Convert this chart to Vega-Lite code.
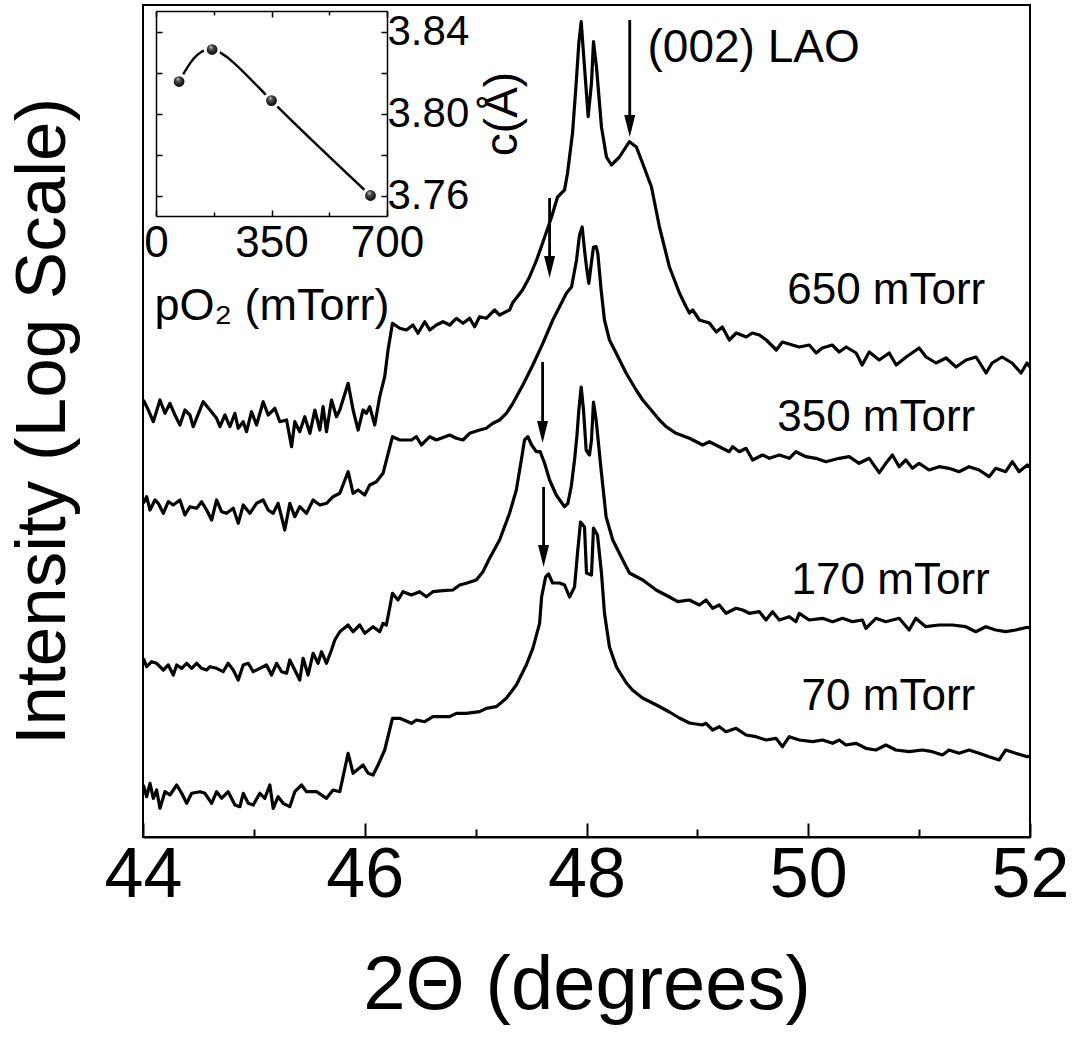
{
  "$schema": "https://vega.github.io/schema/vega-lite/v6.json",
  "width": 887,
  "height": 832,
  "autosize": "none",
  "padding": {"left": 143, "top": 5, "right": 45, "bottom": 201},
  "background": "white",
  "config": {"view": {"stroke": "black", "strokeWidth": 2}, "font": "Liberation Sans"},
  "datasets": {
    "curves": [
      {"s":"650","x":44.003,"y":437},{"s":"650","x":44.048,"y":427},{"s":"650","x":44.093,"y":415.3},{"s":"650","x":44.153,"y":437},{"s":"650","x":44.198,"y":423.7},{"s":"650","x":44.243,"y":433.7},{"s":"650","x":44.288,"y":422},{"s":"650","x":44.333,"y":412},{"s":"650","x":44.378,"y":427},{"s":"650","x":44.423,"y":422},{"s":"650","x":44.453,"y":410.3},{"s":"650","x":44.543,"y":435.3},{"s":"650","x":44.604,"y":427},{"s":"650","x":44.664,"y":418.7},{"s":"650","x":44.694,"y":410.3},{"s":"650","x":44.739,"y":422},{"s":"650","x":44.784,"y":410.3},{"s":"650","x":44.829,"y":423.7},{"s":"650","x":44.859,"y":408.7},{"s":"650","x":44.904,"y":415.3},{"s":"650","x":44.934,"y":405.3},{"s":"650","x":44.979,"y":425.3},{"s":"650","x":45.024,"y":412},{"s":"650","x":45.084,"y":435.3},{"s":"650","x":45.129,"y":422},{"s":"650","x":45.189,"y":428.7},{"s":"650","x":45.234,"y":415.3},{"s":"650","x":45.295,"y":417},{"s":"650","x":45.34,"y":390.3},{"s":"650","x":45.369,"y":415.3},{"s":"650","x":45.414,"y":405.3},{"s":"650","x":45.459,"y":420.3},{"s":"650","x":45.505,"y":403.7},{"s":"650","x":45.55,"y":427},{"s":"650","x":45.595,"y":407},{"s":"650","x":45.624,"y":430.3},{"s":"650","x":45.655,"y":405.3},{"s":"650","x":45.7,"y":437},{"s":"650","x":45.745,"y":420.3},{"s":"650","x":45.775,"y":427},{"s":"650","x":45.85,"y":453.7},{"s":"650","x":45.895,"y":427},{"s":"650","x":45.94,"y":407},{"s":"650","x":45.985,"y":427},{"s":"650","x":46.015,"y":423.7},{"s":"650","x":46.045,"y":430.3},{"s":"650","x":46.09,"y":412},{"s":"650","x":46.135,"y":440.3},{"s":"650","x":46.18,"y":460.3},{"s":"650","x":46.21,"y":487},{"s":"650","x":46.25,"y":513.7},{"s":"650","x":46.315,"y":508.7},{"s":"650","x":46.376,"y":507},{"s":"650","x":46.435,"y":512},{"s":"650","x":46.48,"y":503.7},{"s":"650","x":46.541,"y":515.3},{"s":"650","x":46.586,"y":507},{"s":"650","x":46.646,"y":512},{"s":"650","x":46.705,"y":515.3},{"s":"650","x":46.766,"y":512},{"s":"650","x":46.826,"y":518.7},{"s":"650","x":46.886,"y":513.7},{"s":"650","x":46.946,"y":518.7},{"s":"650","x":46.991,"y":510.3},{"s":"650","x":47.036,"y":520.3},{"s":"650","x":47.096,"y":518.7},{"s":"650","x":47.171,"y":527},{"s":"650","x":47.216,"y":522},{"s":"650","x":47.306,"y":527},{"s":"650","x":47.333,"y":534},{"s":"650","x":47.423,"y":547},{"s":"650","x":47.486,"y":560},{"s":"650","x":47.55,"y":577},{"s":"650","x":47.604,"y":594},{"s":"650","x":47.685,"y":620},{"s":"650","x":47.739,"y":640},{"s":"650","x":47.802,"y":647},{"s":"650","x":47.829,"y":664},{"s":"650","x":47.874,"y":704},{"s":"650","x":47.907,"y":754},{"s":"650","x":47.931,"y":794},{"s":"650","x":47.952,"y":815.3},{"s":"650","x":47.982,"y":770},{"s":"650","x":48.015,"y":720.3},{"s":"650","x":48.045,"y":754},{"s":"650","x":48.063,"y":795.3},{"s":"650","x":48.09,"y":770},{"s":"650","x":48.135,"y":710},{"s":"650","x":48.18,"y":680},{"s":"650","x":48.225,"y":672},{"s":"650","x":48.297,"y":680},{"s":"650","x":48.387,"y":695.3},{"s":"650","x":48.45,"y":690},{"s":"650","x":48.505,"y":674},{"s":"650","x":48.586,"y":650},{"s":"650","x":48.658,"y":610},{"s":"650","x":48.748,"y":570},{"s":"650","x":48.838,"y":544},{"s":"650","x":48.898,"y":530.3},{"s":"650","x":48.928,"y":524},{"s":"650","x":48.958,"y":527},{"s":"650","x":49.018,"y":517},{"s":"650","x":49.108,"y":514},{"s":"650","x":49.171,"y":505},{"s":"650","x":49.225,"y":510},{"s":"650","x":49.288,"y":497},{"s":"650","x":49.351,"y":504},{"s":"650","x":49.441,"y":500},{"s":"650","x":49.495,"y":504},{"s":"650","x":49.559,"y":502},{"s":"650","x":49.622,"y":497},{"s":"650","x":49.712,"y":487},{"s":"650","x":49.766,"y":495},{"s":"650","x":49.856,"y":492},{"s":"650","x":49.919,"y":490},{"s":"650","x":50.009,"y":492},{"s":"650","x":50.072,"y":484},{"s":"650","x":50.126,"y":489},{"s":"650","x":50.216,"y":492},{"s":"650","x":50.279,"y":485},{"s":"650","x":50.342,"y":490},{"s":"650","x":50.432,"y":484},{"s":"650","x":50.486,"y":472},{"s":"650","x":50.55,"y":485},{"s":"650","x":50.64,"y":477},{"s":"650","x":50.73,"y":484},{"s":"650","x":50.793,"y":472},{"s":"650","x":50.883,"y":480},{"s":"650","x":51.0,"y":489},{"s":"650","x":51.063,"y":480},{"s":"650","x":51.153,"y":474},{"s":"650","x":51.243,"y":479},{"s":"650","x":51.333,"y":470},{"s":"650","x":51.423,"y":477},{"s":"650","x":51.514,"y":480},{"s":"650","x":51.604,"y":464},{"s":"650","x":51.658,"y":474},{"s":"650","x":51.748,"y":480},{"s":"650","x":51.838,"y":474},{"s":"650","x":51.919,"y":464},{"s":"650","x":51.973,"y":474},{"s":"650","x":52.0,"y":470},

      {"s":"350","x":44.003,"y":333.7},{"s":"350","x":44.033,"y":340.3},{"s":"350","x":44.063,"y":327},{"s":"350","x":44.108,"y":337},{"s":"350","x":44.138,"y":333.7},{"s":"350","x":44.183,"y":323.7},{"s":"350","x":44.228,"y":335.3},{"s":"350","x":44.273,"y":332},{"s":"350","x":44.333,"y":337},{"s":"350","x":44.378,"y":322},{"s":"350","x":44.423,"y":330.3},{"s":"350","x":44.484,"y":328.7},{"s":"350","x":44.529,"y":335.3},{"s":"350","x":44.574,"y":327},{"s":"350","x":44.619,"y":317},{"s":"350","x":44.664,"y":337},{"s":"350","x":44.709,"y":325.3},{"s":"350","x":44.754,"y":323.7},{"s":"350","x":44.814,"y":328.7},{"s":"350","x":44.859,"y":313.7},{"s":"350","x":44.904,"y":332},{"s":"350","x":44.964,"y":323.7},{"s":"350","x":45.024,"y":333.7},{"s":"350","x":45.084,"y":337},{"s":"350","x":45.129,"y":327},{"s":"350","x":45.174,"y":323.7},{"s":"350","x":45.219,"y":333.7},{"s":"350","x":45.279,"y":307},{"s":"350","x":45.324,"y":333.7},{"s":"350","x":45.369,"y":320.3},{"s":"350","x":45.414,"y":330.3},{"s":"350","x":45.475,"y":323.7},{"s":"350","x":45.534,"y":337},{"s":"350","x":45.595,"y":332},{"s":"350","x":45.655,"y":333.7},{"s":"350","x":45.714,"y":340.3},{"s":"350","x":45.775,"y":343.7},{"s":"350","x":45.85,"y":365.3},{"s":"350","x":45.895,"y":343.7},{"s":"350","x":45.94,"y":347},{"s":"350","x":46.0,"y":342},{"s":"350","x":46.045,"y":352},{"s":"350","x":46.105,"y":355.3},{"s":"350","x":46.165,"y":363.7},{"s":"350","x":46.25,"y":400.3},{"s":"350","x":46.315,"y":397},{"s":"350","x":46.421,"y":397},{"s":"350","x":46.466,"y":400.3},{"s":"350","x":46.511,"y":392},{"s":"350","x":46.586,"y":400.3},{"s":"350","x":46.646,"y":397},{"s":"350","x":46.766,"y":402},{"s":"350","x":46.826,"y":398.7},{"s":"350","x":46.886,"y":397},{"s":"350","x":46.946,"y":403.7},{"s":"350","x":47.036,"y":407},{"s":"350","x":47.096,"y":408.7},{"s":"350","x":47.156,"y":413.7},{"s":"350","x":47.216,"y":417},{"s":"350","x":47.277,"y":423.7},{"s":"350","x":47.336,"y":433.7},{"s":"350","x":47.426,"y":452},{"s":"350","x":47.516,"y":472},{"s":"350","x":47.606,"y":493.7},{"s":"350","x":47.696,"y":517},{"s":"350","x":47.757,"y":530.3},{"s":"350","x":47.82,"y":544},{"s":"350","x":47.865,"y":550},{"s":"350","x":47.91,"y":577},{"s":"350","x":47.937,"y":602},{"s":"350","x":47.961,"y":610},{"s":"350","x":47.982,"y":587},{"s":"350","x":48.0,"y":570},{"s":"350","x":48.021,"y":553.7},{"s":"350","x":48.045,"y":575},{"s":"350","x":48.063,"y":590},{"s":"350","x":48.087,"y":590.3},{"s":"350","x":48.102,"y":583.7},{"s":"350","x":48.132,"y":547},{"s":"350","x":48.162,"y":517},{"s":"350","x":48.207,"y":497},{"s":"350","x":48.268,"y":483.7},{"s":"350","x":48.358,"y":463.7},{"s":"350","x":48.448,"y":447},{"s":"350","x":48.507,"y":437},{"s":"350","x":48.583,"y":427},{"s":"350","x":48.658,"y":417},{"s":"350","x":48.718,"y":410.3},{"s":"350","x":48.808,"y":403.7},{"s":"350","x":48.928,"y":398.7},{"s":"350","x":49.048,"y":392},{"s":"350","x":49.108,"y":395.3},{"s":"350","x":49.198,"y":390.3},{"s":"350","x":49.288,"y":385.3},{"s":"350","x":49.318,"y":390.3},{"s":"350","x":49.378,"y":385.3},{"s":"350","x":49.439,"y":388.7},{"s":"350","x":49.498,"y":377},{"s":"350","x":49.588,"y":382},{"s":"350","x":49.649,"y":378.7},{"s":"350","x":49.739,"y":382},{"s":"350","x":49.829,"y":378.7},{"s":"350","x":49.889,"y":385.3},{"s":"350","x":49.979,"y":380.3},{"s":"350","x":50.069,"y":378.7},{"s":"350","x":50.159,"y":375.3},{"s":"350","x":50.279,"y":378.7},{"s":"350","x":50.369,"y":380.3},{"s":"350","x":50.459,"y":373.7},{"s":"350","x":50.55,"y":378.7},{"s":"350","x":50.64,"y":364.3},{"s":"350","x":50.7,"y":373.7},{"s":"350","x":50.759,"y":382},{"s":"350","x":50.82,"y":370.3},{"s":"350","x":50.88,"y":377},{"s":"350","x":50.94,"y":368.7},{"s":"350","x":51.0,"y":373.7},{"s":"350","x":51.09,"y":367},{"s":"350","x":51.18,"y":370.3},{"s":"350","x":51.27,"y":368.7},{"s":"350","x":51.36,"y":365.3},{"s":"350","x":51.45,"y":370.3},{"s":"350","x":51.541,"y":367},{"s":"350","x":51.631,"y":360.3},{"s":"350","x":51.691,"y":368.7},{"s":"350","x":51.781,"y":365.3},{"s":"350","x":51.841,"y":375.3},{"s":"350","x":51.901,"y":365.3},{"s":"350","x":51.976,"y":372},{"s":"350","x":52.0,"y":370},

      {"s":"170","x":44.003,"y":178.7},{"s":"170","x":44.033,"y":170.3},{"s":"170","x":44.078,"y":175.3},{"s":"170","x":44.123,"y":173.7},{"s":"170","x":44.183,"y":167},{"s":"170","x":44.228,"y":172},{"s":"170","x":44.273,"y":162},{"s":"170","x":44.304,"y":172},{"s":"170","x":44.349,"y":168.7},{"s":"170","x":44.394,"y":173.7},{"s":"170","x":44.439,"y":168.7},{"s":"170","x":44.484,"y":173.7},{"s":"170","x":44.529,"y":168.7},{"s":"170","x":44.574,"y":167},{"s":"170","x":44.604,"y":170.3},{"s":"170","x":44.664,"y":168.7},{"s":"170","x":44.723,"y":165.3},{"s":"170","x":44.768,"y":173.7},{"s":"170","x":44.814,"y":167},{"s":"170","x":44.859,"y":157},{"s":"170","x":44.904,"y":172},{"s":"170","x":44.949,"y":173.7},{"s":"170","x":44.994,"y":165.3},{"s":"170","x":45.054,"y":168.7},{"s":"170","x":45.114,"y":172},{"s":"170","x":45.159,"y":162},{"s":"170","x":45.205,"y":173.7},{"s":"170","x":45.25,"y":165.3},{"s":"170","x":45.295,"y":163.7},{"s":"170","x":45.324,"y":177},{"s":"170","x":45.369,"y":167},{"s":"170","x":45.414,"y":157},{"s":"170","x":45.444,"y":178.7},{"s":"170","x":45.489,"y":162},{"s":"170","x":45.534,"y":183.7},{"s":"170","x":45.579,"y":173.7},{"s":"170","x":45.61,"y":185.3},{"s":"170","x":45.655,"y":173.7},{"s":"170","x":45.7,"y":187},{"s":"170","x":45.73,"y":197},{"s":"170","x":45.775,"y":205.3},{"s":"170","x":45.85,"y":212},{"s":"170","x":45.895,"y":205.3},{"s":"170","x":45.955,"y":212},{"s":"170","x":46.0,"y":203.7},{"s":"170","x":46.075,"y":210.3},{"s":"170","x":46.135,"y":205.3},{"s":"170","x":46.165,"y":213.7},{"s":"170","x":46.195,"y":212},{"s":"170","x":46.25,"y":243.7},{"s":"170","x":46.3,"y":237},{"s":"170","x":46.345,"y":245.3},{"s":"170","x":46.421,"y":242},{"s":"170","x":46.495,"y":245.3},{"s":"170","x":46.556,"y":240.3},{"s":"170","x":46.615,"y":245.3},{"s":"170","x":46.705,"y":246.3},{"s":"170","x":46.795,"y":247},{"s":"170","x":46.856,"y":252},{"s":"170","x":46.916,"y":253.7},{"s":"170","x":47.006,"y":257},{"s":"170","x":47.066,"y":265.3},{"s":"170","x":47.126,"y":278.7},{"s":"170","x":47.216,"y":297},{"s":"170","x":47.306,"y":323.7},{"s":"170","x":47.367,"y":347},{"s":"170","x":47.412,"y":377},{"s":"170","x":47.441,"y":397},{"s":"170","x":47.471,"y":400.3},{"s":"170","x":47.505,"y":392},{"s":"170","x":47.547,"y":385.3},{"s":"170","x":47.583,"y":385.3},{"s":"170","x":47.622,"y":373.7},{"s":"170","x":47.667,"y":357},{"s":"170","x":47.727,"y":342},{"s":"170","x":47.802,"y":330.3},{"s":"170","x":47.832,"y":333.7},{"s":"170","x":47.862,"y":350.3},{"s":"170","x":47.892,"y":377},{"s":"170","x":47.913,"y":400.3},{"s":"170","x":47.931,"y":427},{"s":"170","x":47.952,"y":450},{"s":"170","x":47.973,"y":427},{"s":"170","x":47.997,"y":387},{"s":"170","x":48.027,"y":382},{"s":"170","x":48.045,"y":397},{"s":"170","x":48.063,"y":435},{"s":"170","x":48.087,"y":417},{"s":"170","x":48.132,"y":367},{"s":"170","x":48.177,"y":320},{"s":"170","x":48.237,"y":297},{"s":"170","x":48.327,"y":277},{"s":"170","x":48.387,"y":264},{"s":"170","x":48.507,"y":257},{"s":"170","x":48.568,"y":252},{"s":"170","x":48.628,"y":247},{"s":"170","x":48.748,"y":240},{"s":"170","x":48.823,"y":235.3},{"s":"170","x":48.928,"y":237},{"s":"170","x":49.018,"y":232},{"s":"170","x":49.078,"y":237},{"s":"170","x":49.138,"y":228.7},{"s":"170","x":49.198,"y":232},{"s":"170","x":49.258,"y":223.7},{"s":"170","x":49.349,"y":228.7},{"s":"170","x":49.408,"y":227},{"s":"170","x":49.468,"y":223.7},{"s":"170","x":49.559,"y":225.3},{"s":"170","x":49.619,"y":217},{"s":"170","x":49.678,"y":225.3},{"s":"170","x":49.739,"y":217},{"s":"170","x":49.829,"y":220.3},{"s":"170","x":49.889,"y":215.3},{"s":"170","x":49.919,"y":223.7},{"s":"170","x":50.009,"y":217},{"s":"170","x":50.129,"y":218.7},{"s":"170","x":50.219,"y":215.3},{"s":"170","x":50.309,"y":218.7},{"s":"170","x":50.399,"y":215.3},{"s":"170","x":50.489,"y":217},{"s":"170","x":50.52,"y":208.7},{"s":"170","x":50.61,"y":218.7},{"s":"170","x":50.7,"y":215.3},{"s":"170","x":50.82,"y":218.7},{"s":"170","x":50.91,"y":207},{"s":"170","x":50.97,"y":218.7},{"s":"170","x":51.06,"y":210.3},{"s":"170","x":51.18,"y":212},{"s":"170","x":51.3,"y":212},{"s":"170","x":51.421,"y":210.3},{"s":"170","x":51.511,"y":205.3},{"s":"170","x":51.601,"y":210.3},{"s":"170","x":51.691,"y":207},{"s":"170","x":51.781,"y":205.3},{"s":"170","x":51.871,"y":207},{"s":"170","x":51.976,"y":209.7},{"s":"170","x":52.0,"y":209},

      {"s":"70","x":44.003,"y":52},{"s":"70","x":44.033,"y":40.3},{"s":"70","x":44.063,"y":53.7},{"s":"70","x":44.093,"y":38.7},{"s":"70","x":44.123,"y":47},{"s":"70","x":44.153,"y":28.7},{"s":"70","x":44.198,"y":45.3},{"s":"70","x":44.243,"y":42},{"s":"70","x":44.304,"y":52},{"s":"70","x":44.349,"y":43.7},{"s":"70","x":44.394,"y":33.7},{"s":"70","x":44.439,"y":43.7},{"s":"70","x":44.514,"y":45.3},{"s":"70","x":44.559,"y":43.7},{"s":"70","x":44.619,"y":33.7},{"s":"70","x":44.664,"y":45.3},{"s":"70","x":44.709,"y":38.7},{"s":"70","x":44.768,"y":45.3},{"s":"70","x":44.829,"y":32},{"s":"70","x":44.874,"y":30.3},{"s":"70","x":44.904,"y":43.7},{"s":"70","x":44.949,"y":33.7},{"s":"70","x":44.994,"y":32},{"s":"70","x":45.054,"y":43.7},{"s":"70","x":45.099,"y":38.7},{"s":"70","x":45.144,"y":52},{"s":"70","x":45.174,"y":28.7},{"s":"70","x":45.219,"y":40.3},{"s":"70","x":45.264,"y":33.7},{"s":"70","x":45.324,"y":30.3},{"s":"70","x":45.369,"y":45.3},{"s":"70","x":45.43,"y":52},{"s":"70","x":45.475,"y":45.3},{"s":"70","x":45.565,"y":45.3},{"s":"70","x":45.655,"y":38.7},{"s":"70","x":45.714,"y":47},{"s":"70","x":45.775,"y":45.3},{"s":"70","x":45.85,"y":83.7},{"s":"70","x":45.895,"y":63.7},{"s":"70","x":45.985,"y":72},{"s":"70","x":46.03,"y":63.7},{"s":"70","x":46.075,"y":62},{"s":"70","x":46.12,"y":72},{"s":"70","x":46.18,"y":87},{"s":"70","x":46.25,"y":118.7},{"s":"70","x":46.315,"y":118.7},{"s":"70","x":46.421,"y":113.7},{"s":"70","x":46.466,"y":117},{"s":"70","x":46.541,"y":115.3},{"s":"70","x":46.615,"y":120.3},{"s":"70","x":46.766,"y":120.3},{"s":"70","x":46.826,"y":123.7},{"s":"70","x":46.916,"y":123.7},{"s":"70","x":47.036,"y":125.3},{"s":"70","x":47.096,"y":128.7},{"s":"70","x":47.186,"y":130.3},{"s":"70","x":47.277,"y":138.7},{"s":"70","x":47.367,"y":152},{"s":"70","x":47.457,"y":172},{"s":"70","x":47.516,"y":188.7},{"s":"70","x":47.577,"y":213.7},{"s":"70","x":47.595,"y":240},{"s":"70","x":47.631,"y":260},{"s":"70","x":47.658,"y":263},{"s":"70","x":47.694,"y":254},{"s":"70","x":47.757,"y":254},{"s":"70","x":47.802,"y":252},{"s":"70","x":47.847,"y":240},{"s":"70","x":47.892,"y":250},{"s":"70","x":47.919,"y":284},{"s":"70","x":47.946,"y":315},{"s":"70","x":47.982,"y":310},{"s":"70","x":48.0,"y":264},{"s":"70","x":48.045,"y":262},{"s":"70","x":48.063,"y":309},{"s":"70","x":48.099,"y":302},{"s":"70","x":48.135,"y":264},{"s":"70","x":48.162,"y":224},{"s":"70","x":48.207,"y":190},{"s":"70","x":48.27,"y":170},{"s":"70","x":48.36,"y":154},{"s":"70","x":48.414,"y":147},{"s":"70","x":48.505,"y":139},{"s":"70","x":48.631,"y":132},{"s":"70","x":48.748,"y":125},{"s":"70","x":48.838,"y":119},{"s":"70","x":48.928,"y":114},{"s":"70","x":49.045,"y":112},{"s":"70","x":49.078,"y":113.7},{"s":"70","x":49.138,"y":107},{"s":"70","x":49.198,"y":110.3},{"s":"70","x":49.258,"y":105.3},{"s":"70","x":49.349,"y":108.7},{"s":"70","x":49.439,"y":102},{"s":"70","x":49.529,"y":100.3},{"s":"70","x":49.619,"y":97},{"s":"70","x":49.709,"y":98.7},{"s":"70","x":49.768,"y":90.3},{"s":"70","x":49.829,"y":100.3},{"s":"70","x":49.919,"y":97},{"s":"70","x":50.039,"y":95.3},{"s":"70","x":50.129,"y":97},{"s":"70","x":50.219,"y":93.7},{"s":"70","x":50.279,"y":97},{"s":"70","x":50.34,"y":92},{"s":"70","x":50.43,"y":93.7},{"s":"70","x":50.52,"y":88.7},{"s":"70","x":50.61,"y":87},{"s":"70","x":50.7,"y":92},{"s":"70","x":50.79,"y":87},{"s":"70","x":50.91,"y":85.3},{"s":"70","x":51.03,"y":87},{"s":"70","x":51.12,"y":85.3},{"s":"70","x":51.21,"y":82},{"s":"70","x":51.27,"y":87},{"s":"70","x":51.36,"y":83.7},{"s":"70","x":51.45,"y":87},{"s":"70","x":51.541,"y":83.7},{"s":"70","x":51.631,"y":80.3},{"s":"70","x":51.721,"y":77},{"s":"70","x":51.781,"y":87},{"s":"70","x":51.871,"y":83.7},{"s":"70","x":51.976,"y":80.3},{"s":"70","x":52.0,"y":81}
    ],
    "arrows": [
      {"x": 48.39, "y": 817, "y2": 706},
      {"x": 47.667, "y": 639, "y2": 565},
      {"x": 47.604, "y": 475, "y2": 400},
      {"x": 47.613, "y": 350, "y2": 276}
    ],
    "heads": [
      {"x": 48.39, "y": 711},
      {"x": 47.667, "y": 570},
      {"x": 47.604, "y": 405},
      {"x": 47.613, "y": 281}
    ],
    "labels": [
      {"x": 49.81, "y": 546, "t": "650 mTorr"},
      {"x": 49.72, "y": 419, "t": "350 mTorr"},
      {"x": 49.85, "y": 256, "t": "170 mTorr"},
      {"x": 49.94, "y": 140, "t": "70 mTorr"}
    ],
    "lao": [{"x": 48.55, "y": 789, "t": "(002) LAO"}],
    "inset": [
      {"p": 70, "c": 3.8156},
      {"p": 170, "c": 3.8312},
      {"p": 350, "c": 3.8063},
      {"p": 650, "c": 3.76}
    ]
  },
  "layer": [
    {
      "encoding": {
        "x": {
          "field": "x", "type": "quantitative",
          "scale": {"domain": [44, 52], "nice": false, "zero": false},
          "axis": {
            "orient": "bottom",
            "values": [44, 45, 46, 47, 48, 49, 50, 51, 52],
            "labelExpr": "datum.value % 2 === 0 ? datum.label : ''",
            "grid": false,
            "domainColor": "black", "domainWidth": 2,
            "tickColor": "black", "tickWidth": 2,
            "tickSize": {"condition": {"test": "datum.value % 2 === 0", "value": -14}, "value": -8},
            "labelFont": "Liberation Sans", "labelFontSize": 70, "labelColor": "black",
            "labelPadding": 18, "labelFlush": false, "labelOverlap": false,
            "title": "2Θ (degrees)",
            "titleFont": "Liberation Sans", "titleFontSize": 76, "titleFontWeight": "normal", "titleColor": "black",
            "titlePadding": 32
          }
        },
        "y": {
          "field": "y", "type": "quantitative",
          "scale": {"domain": [0, 832], "nice": false, "zero": false},
          "axis": {
            "orient": "left",
            "domain": false, "ticks": false, "labels": false, "grid": false,
            "title": "Intensity (Log Scale)",
            "titleFont": "Liberation Sans", "titleFontSize": 71, "titleFontWeight": "normal", "titleColor": "black",
            "titlePadding": 64
          }
        }
      },
      "layer": [
        {
          "data": {"name": "curves"},
          "mark": {"type": "line", "color": "black", "strokeWidth": 3.2, "strokeJoin": "round"},
          "encoding": {"detail": {"field": "s"}}
        },
        {
          "data": {"name": "arrows"},
          "mark": {"type": "rule", "color": "black", "strokeWidth": 2.8},
          "encoding": {"y2": {"field": "y2"}}
        },
        {
          "data": {"name": "heads"},
          "mark": {"type": "point", "shape": "M-0.5,-1L0.5,-1L0,1Z", "size": 484, "filled": true, "color": "black", "opacity": 1, "strokeWidth": 0}
        },
        {
          "data": {"name": "labels"},
          "mark": {"type": "text", "align": "left", "baseline": "middle", "font": "Liberation Sans", "fontSize": 44, "color": "black"},
          "encoding": {"text": {"field": "t"}}
        },
        {
          "data": {"name": "lao"},
          "mark": {"type": "text", "align": "left", "baseline": "middle", "font": "Liberation Sans", "fontSize": 46, "color": "black"},
          "encoding": {"text": {"field": "t"}}
        }
      ]
    },
    {
      "data": {"name": "inset"},
      "encoding": {
        "x": {
          "field": "p", "type": "quantitative",
          "scale": {"domain": [0, 700], "range": [13, 244], "nice": false, "zero": false},
          "axis": {
            "orient": "bottom", "offset": -621,
            "values": [0, 175, 350, 525, 700],
            "labelExpr": "datum.value % 350 === 0 ? datum.label : ''",
            "grid": false,
            "domainColor": "black", "domainWidth": 1.5,
            "tickColor": "black", "tickWidth": 1.5,
            "tickSize": {"condition": {"test": "datum.value % 350 === 0", "value": -6}, "value": -4},
            "labelFont": "Liberation Sans", "labelFontSize": 44, "labelColor": "black",
            "labelPadding": 11, "labelFlush": false, "labelOverlap": false,
            "title": "pO₂ (mTorr)",
            "titleFont": "Liberation Sans", "titleFontSize": 45, "titleFontWeight": "normal", "titleColor": "black",
            "titlePadding": 16
          }
        },
        "y": {
          "field": "c", "type": "quantitative",
          "scale": {"domain": [3.75, 3.85], "range": [211, 6], "nice": false, "zero": false},
          "axis": {
            "orient": "right", "offset": -643,
            "values": [3.76, 3.78, 3.8, 3.82, 3.84],
            "format": ".2f",
            "labelExpr": "(datum.value === 3.76 || datum.value === 3.8 || datum.value === 3.84) ? datum.label : ''",
            "grid": false,
            "domainColor": "black", "domainWidth": 1.5,
            "tickColor": "black", "tickWidth": 1.5,
            "tickSize": -6,
            "labelFont": "Liberation Sans", "labelFontSize": 42, "labelColor": "black",
            "labelPadding": 6, "labelFlush": false, "labelOverlap": false,
            "title": "c(Å)", "titleAngle": 270,
            "titleFont": "Liberation Sans", "titleFontSize": 46, "titleFontWeight": "normal", "titleColor": "black",
            "titlePadding": 58
          }
        }
      },
      "layer": [
        {
          "mark": {"type": "line", "color": "black", "strokeWidth": 2.4, "interpolate": "natural"}
        },
        {
          "mark": {
            "type": "point", "shape": "circle", "size": 190, "filled": true, "opacity": 1,
            "fill": {"gradient": "radial", "x1": 0.4, "y1": 0.3, "r1": 0, "x2": 0.5, "y2": 0.5, "r2": 0.55,
                     "stops": [{"offset": 0, "color": "#e8e8e8"}, {"offset": 0.25, "color": "#555555"}, {"offset": 0.7, "color": "#111111"}, {"offset": 1, "color": "#000000"}]},
            "stroke": "white", "strokeWidth": 3
          }
        }
      ]
    },
    {
      "data": {"name": "inset"},
      "mark": {"type": "point", "opacity": 0},
      "encoding": {
        "x": {
          "field": "p", "type": "quantitative",
          "scale": {"domain": [0, 700], "range": [13, 244], "nice": false, "zero": false},
          "axis": {
            "orient": "top", "offset": -6,
            "values": [0, 175, 350, 525, 700],
            "labels": false, "grid": false, "title": null,
            "domainColor": "black", "domainWidth": 1.5,
            "tickColor": "black", "tickWidth": 1.5,
            "tickSize": {"condition": {"test": "datum.value % 350 === 0", "value": -6}, "value": -4}
          }
        },
        "y": {
          "field": "c", "type": "quantitative",
          "scale": {"domain": [3.75, 3.85], "range": [211, 6], "nice": false, "zero": false},
          "axis": {
            "orient": "left", "offset": -13,
            "values": [3.76, 3.78, 3.8, 3.82, 3.84],
            "labels": false, "grid": false, "title": null,
            "domainColor": "black", "domainWidth": 1.5,
            "tickColor": "black", "tickWidth": 1.5,
            "tickSize": -6
          }
        }
      }
    }
  ],
  "resolve": {
    "scale": {"x": "independent", "y": "independent"},
    "axis": {"x": "independent", "y": "independent"}
  }
}
